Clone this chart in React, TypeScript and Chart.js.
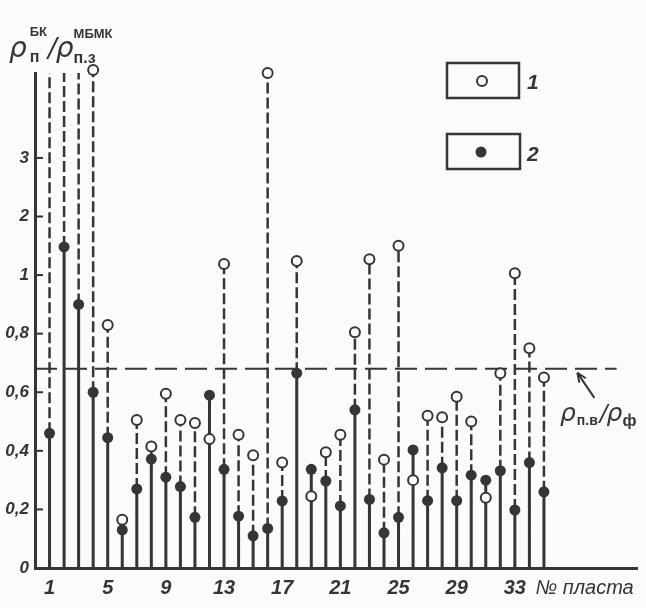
import React, { useEffect, useRef } from 'react';
import { Chart, registerables } from 'chart.js';

Chart.register(...registerables);

// Layer numbers along the horizontal axis
const layerNumbers = [
  1, 2, 3, 4, 5, 6, 7, 8, 9, 10, 11, 12, 13, 14, 15, 16, 17, 18,
  19, 20, 21, 22, 23, 24, 25, 26, 27, 28, 29, 30, 31, 32, 33, 34, 35,
];

// Series 1 (open circles); values above 3 run past the top of the scale
const series1Values = [
  5.0, 5.0, 5.0, 4.5, 0.83, 0.165, 0.505, 0.415, 0.595, 0.505, 0.495, 0.44,
  1.19, 0.455, 0.385, 4.45, 0.36, 1.24, 0.245, 0.395, 0.455, 0.805, 1.27,
  0.37, 1.5, 0.3, 0.52, 0.515, 0.585, 0.5, 0.24, 0.665, 1.03, 0.75, 0.65,
];

// Series 2 (filled dots)
const series2Values = [
  0.46, 1.48, 0.9, 0.6, 0.445, 0.13, 0.27, 0.372, 0.31, 0.278, 0.173, 0.59,
  0.337, 0.177, 0.11, 0.135, 0.229, 0.665, 0.337, 0.297, 0.212, 0.54, 0.234,
  0.12, 0.173, 0.403, 0.23, 0.342, 0.23, 0.317, 0.3, 0.332, 0.198, 0.36, 0.26,
];

// ρп.в / ρф reference level
const thresholdValue = 0.68;

const yTickValues = [0, 0.2, 0.4, 0.6, 0.8, 1, 2, 3];
const yTickLabels = ['0', '0,2', '0,4', '0,6', '0,8', '1', '2', '3'];
const xTickLayers = [1, 5, 9, 13, 17, 21, 25, 29, 33];
const xAxisName = '№ пласта';

const INK = '#353535';
const PAPER = '#fbfbf9';

// Piecewise vertical axis: 0…1 in steps of 0.2, then 1, 2, 3 at the same spacing
const toAxis = (v: number) => (v <= 1 ? v * 5 : v + 4);
const AXIS_TOP = 8.45;
const X_MAX = 41.4;
const NAME_POS = 37.8;
const THRESHOLD_END = 40.0;

type Run = { t: string; font: string; dy?: number; sup?: string; supFont?: string; supDy?: number; gap?: number };

function drawRuns(ctx: CanvasRenderingContext2D, x: number, y: number, runs: Run[]) {
  let cx = x;
  runs.forEach((r) => {
    ctx.font = r.font;
    ctx.fillText(r.t, cx, y + (r.dy || 0));
    let w = ctx.measureText(r.t).width;
    if (r.sup) {
      ctx.font = r.supFont || r.font;
      ctx.fillText(r.sup, cx, y + (r.supDy || 0));
      w = Math.max(w, ctx.measureText(r.sup).width);
    }
    cx += w + (r.gap || 0);
  });
}

const decorPlugin = {
  id: 'decor',
  beforeDraw(chart: any) {
    const { ctx, width, height } = chart;
    ctx.save();
    ctx.fillStyle = PAPER;
    ctx.fillRect(0, 0, width, height);
    ctx.restore();
  },
  afterDraw(chart: any) {
    const { ctx } = chart;
    const xs = chart.scales.x;
    const ys = chart.scales.y;
    ctx.save();
    ctx.strokeStyle = INK;
    ctx.fillStyle = INK;
    ctx.textBaseline = 'alphabetic';
    ctx.textAlign = 'left';

    // inward tick marks on the vertical axis
    ctx.lineWidth = 2;
    yTickValues.forEach((v) => {
      if (v === 0) return;
      const py = ys.getPixelForValue(toAxis(v));
      ctx.beginPath();
      ctx.moveTo(xs.left, py);
      ctx.lineTo(xs.left + 8, py);
      ctx.stroke();
    });

    // vertical axis title ρп^БК / ρп.з^МБМК
    const greek = 'italic 28px "DejaVu Sans"';
    const sub = 'bold 16px "Liberation Sans"';
    const sup = 'bold 13px "Liberation Sans"';
    drawRuns(ctx, 9, 57, [
      { t: 'ρ', font: greek, gap: 3 },
      { t: 'п', font: sub, dy: 5, sup: 'БК', supFont: sup, supDy: -21, gap: 1 },
      { t: '/', font: 'italic 26px "DejaVu Sans"', gap: -1 },
      { t: 'ρ', font: greek, gap: 0 },
      { t: 'п.з', font: sub, dy: 6, sup: 'МБМК', supFont: sup, supDy: -19 },
    ]);

    // legend boxes
    ctx.lineWidth = 2.5;
    ctx.strokeRect(447, 63, 72, 35);
    ctx.strokeRect(447, 134, 73, 35);
    ctx.lineWidth = 2;
    ctx.beginPath();
    ctx.arc(482, 81, 5, 0, Math.PI * 2);
    ctx.fillStyle = PAPER;
    ctx.fill();
    ctx.stroke();
    ctx.fillStyle = INK;
    ctx.beginPath();
    ctx.arc(481, 152, 5.5, 0, Math.PI * 2);
    ctx.fill();
    ctx.font = 'italic bold 21px "Liberation Sans"';
    ctx.fillText('1', 527, 89);
    ctx.fillText('2', 527, 161);

    // arrow pointing to the reference level and its label
    const tipX = xs.getPixelForValue(37.3);
    const tipY = ys.getPixelForValue(toAxis(thresholdValue)) + 4;
    const tailX = tipX + 17;
    const tailY = tipY + 25;
    ctx.lineWidth = 2;
    ctx.beginPath();
    ctx.moveTo(tailX, tailY);
    ctx.lineTo(tipX, tipY);
    ctx.stroke();
    const ang = Math.atan2(tipY - tailY, tipX - tailX);
    ctx.beginPath();
    ctx.moveTo(tipX, tipY);
    ctx.lineTo(tipX - 10 * Math.cos(ang - 0.4), tipY - 10 * Math.sin(ang - 0.4));
    ctx.moveTo(tipX, tipY);
    ctx.lineTo(tipX - 10 * Math.cos(ang + 0.4), tipY - 10 * Math.sin(ang + 0.4));
    ctx.stroke();

    drawRuns(ctx, 560, 421, [
      { t: 'ρ', font: 'italic 25px "DejaVu Sans"', gap: 1 },
      { t: 'п.в', font: 'bold 14px "Liberation Sans"', dy: 4, gap: 2 },
      { t: '/', font: 'italic 23px "DejaVu Sans"', gap: -1 },
      { t: 'ρ', font: 'italic 25px "DejaVu Sans"', gap: 0 },
      { t: 'ф', font: 'bold 16px "Liberation Sans"', dy: 5 },
    ]);

    ctx.restore();
  },
};

function buildStems(from: number[], to: number[], keep: (a: number, b: number) => boolean) {
  const pts: { x: number; y: number | null }[] = [];
  layerNumbers.forEach((n, i) => {
    if (!keep(from[i], to[i])) return;
    pts.push({ x: n, y: toAxis(from[i]) }, { x: n, y: toAxis(to[i]) }, { x: n, y: null });
  });
  return pts;
}

export default function App() {
  const ref = useRef<HTMLCanvasElement | null>(null);

  useEffect(() => {
    if (!ref.current) return;
    const zeros = layerNumbers.map(() => 0);
    const solidStems = buildStems(zeros, series2Values, () => true);
    const dashedStems = buildStems(series2Values, series1Values, (a, b) => b > a);
    const filledPts = layerNumbers.map((n, i) => ({ x: n, y: toAxis(series2Values[i]) }));
    const openPts = layerNumbers
      .map((n, i) => ({ x: n, y: toAxis(series1Values[i]) }))
      .filter((p) => p.y <= 8.6);
    const thresholdPts = [
      { x: 0, y: toAxis(thresholdValue) },
      { x: THRESHOLD_END, y: toAxis(thresholdValue) },
    ];

    const chart = new Chart(ref.current, {
      type: 'line',
      data: {
        datasets: [
          {
            label: '2',
            data: filledPts,
            showLine: false,
            pointRadius: 5.5,
            pointBorderWidth: 0,
            pointBackgroundColor: INK,
            order: 0,
          },
          {
            label: '1',
            data: openPts,
            showLine: false,
            pointRadius: 5,
            pointBorderWidth: 2,
            pointBorderColor: INK,
            pointBackgroundColor: PAPER,
            clip: false,
            order: 1,
          },
          {
            label: 'dashed',
            data: dashedStems,
            borderColor: INK,
            borderWidth: 2.5,
            borderDash: [11, 4],
            pointRadius: 0,
            spanGaps: false,
            order: 2,
          },
          {
            label: 'solid',
            data: solidStems,
            borderColor: INK,
            borderWidth: 3,
            pointRadius: 0,
            spanGaps: false,
            order: 3,
          },
          {
            label: 'level',
            data: thresholdPts,
            borderColor: INK,
            borderWidth: 2,
            borderDash: [22, 8],
            pointRadius: 0,
            order: 4,
          },
        ],
      } as any,
      options: {
        animation: false,
        responsive: false,
        events: [],
        layout: { padding: { top: 73, right: 9, left: 0, bottom: 0 } },
        plugins: { legend: { display: false }, tooltip: { enabled: false } },
        scales: {
          x: {
            type: 'linear',
            min: 0,
            max: X_MAX,
            afterBuildTicks: (s: any) => {
              s.ticks = [...xTickLayers, NAME_POS].map((v) => ({ value: v }));
            },
            afterFit: (s: any) => {
              s.height = 40;
            },
            ticks: {
              autoSkip: false,
              maxRotation: 0,
              padding: 8,
              color: INK,
              font: (c: any) => ({
                family: '"Liberation Sans Narrow", "Liberation Sans"',
                size: 20,
                style: 'italic',
                weight: c.index < xTickLayers.length ? 'bold' : 'normal',
              }),
              callback: (_v: any, i: number) => (i < xTickLayers.length ? String(xTickLayers[i]) : xAxisName),
            },
            grid: { display: false, drawTicks: false },
            border: { display: true, width: 3, color: INK },
          },
          y: {
            type: 'linear',
            min: 0,
            max: AXIS_TOP,
            afterBuildTicks: (s: any) => {
              s.ticks = yTickValues.map((v) => ({ value: toAxis(v) }));
            },
            afterFit: (s: any) => {
              s.width = 35;
            },
            ticks: {
              padding: 6,
              color: INK,
              font: { family: '"Liberation Sans"', size: 17, style: 'italic', weight: 'bold' },
              callback: (_v: any, i: number) => yTickLabels[i],
            },
            grid: { display: false, drawTicks: false },
            border: { display: true, width: 3, color: INK },
          },
        },
      } as any,
      plugins: [decorPlugin],
    });
    return () => chart.destroy();
  }, []);

  return (
    <div style={{ position: 'absolute', left: 0, top: 0, width: 646, height: 608 }}>
      <canvas ref={ref} width={646} height={608} style={{ display: 'block' }} />
    </div>
  );
}
